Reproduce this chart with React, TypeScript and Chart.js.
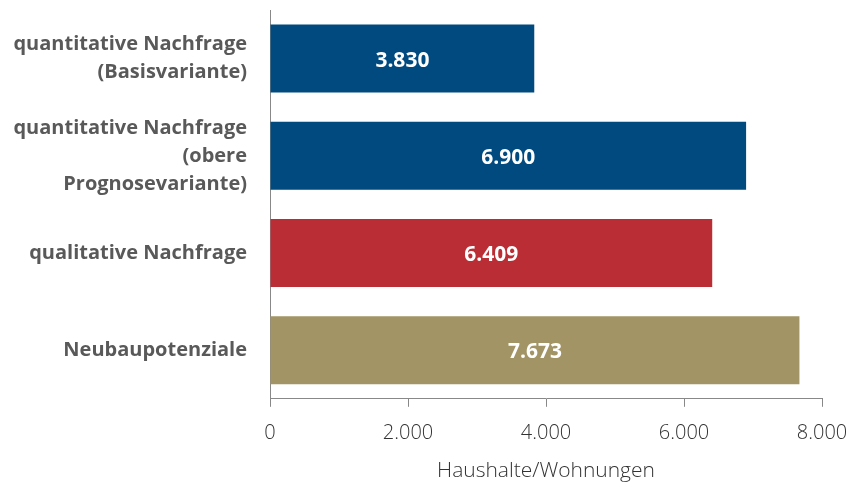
import React, { useEffect, useRef } from "react";
import { Chart, registerables } from "chart.js";

Chart.register(...registerables);

const categories: (string | string[])[] = [
  ["quantitative Nachfrage", "(Basisvariante)"],
  ["quantitative Nachfrage", "(obere", "Prognosevariante)"],
  "qualitative Nachfrage",
  "Neubaupotenziale",
];
const values = [3830, 6900, 6409, 7673];
const barColors = ["#004a7f", "#004a7f", "#bb2d34", "#a39465"];
const xTicks = [0, 2000, 4000, 6000, 8000];
const axisTitle = "Haushalte/Wohnungen";

const fmt = (v: number) => String(Math.round(v)).replace(/\B(?=(\d{3})+(?!\d))/g, ".");

const valueLabels = {
  id: "valueLabels",
  afterDatasetsDraw(chart: any) {
    const ctx = chart.ctx;
    const meta = chart.getDatasetMeta(0);
    ctx.save();
    ctx.fillStyle = "#ffffff";
    ctx.font = "bold 21px 'Open Sans'";
    ctx.textAlign = "center";
    ctx.textBaseline = "middle";
    meta.data.forEach((el: any, i: number) => {
      const cx = (el.x + el.base) / 2;
      ctx.fillText(fmt(values[i]), cx, el.y + 2);
    });
    ctx.restore();
  },
};

export default function App() {
  const ref = useRef<HTMLCanvasElement>(null);
  useEffect(() => {
    const chart = new Chart(ref.current!, {
      type: "bar",
      data: {
        labels: categories,
        datasets: [
          {
            data: values,
            backgroundColor: barColors,
            barPercentage: 0.7,
            categoryPercentage: 1,
          },
        ],
      },
      options: {
        indexAxis: "y",
        animation: false,
        responsive: false,
        layout: { padding: { top: 10, right: 0, left: 0, bottom: 3 } },
        plugins: { legend: { display: false }, tooltip: { enabled: false } },
        scales: {
          x: {
            min: 0,
            max: 8000,
            afterBuildTicks: (s: any) => {
              s.ticks = xTicks.map((v) => ({ value: v }));
            },
            afterFit: (s: any) => {
              s.paddingRight = 28;
              s.paddingLeft = 0;
            },
            grid: { drawOnChartArea: false, drawTicks: true, tickLength: 8, color: "#888888" },
            border: { display: true, color: "#888888", width: 1 },
            ticks: {
              color: "#333333",
              font: { family: "'Open Sans'", size: 20, weight: "300" as any },
              padding: 14,
              maxRotation: 0,
              callback: (v: any) => fmt(Number(v)),
            },
            title: {
              display: true,
              text: axisTitle,
              color: "#333333",
              font: { family: "'Open Sans'", size: 21, weight: "300" as any },
              padding: { top: 0, bottom: 0 },
            },
          },
          y: {
            afterFit: (s: any) => {
              s.width = 270;
              s.paddingTop = 0;
              s.paddingBottom = 0;
            },
            grid: { display: false, drawTicks: false },
            border: { display: true, color: "#888888", width: 1 },
            ticks: {
              color: "#595959",
              font: { family: "'Open Sans'", size: 20, weight: "bold" as any, lineHeight: 1.4 },
              padding: 23,
            },
          },
        },
      },
      plugins: [valueLabels],
    });
    return () => chart.destroy();
  }, []);
  return (
    <div style={{ position: "absolute", left: 0, top: 0, width: 850, height: 487 }}>
      <canvas ref={ref} width={850} height={487} />
    </div>
  );
}
